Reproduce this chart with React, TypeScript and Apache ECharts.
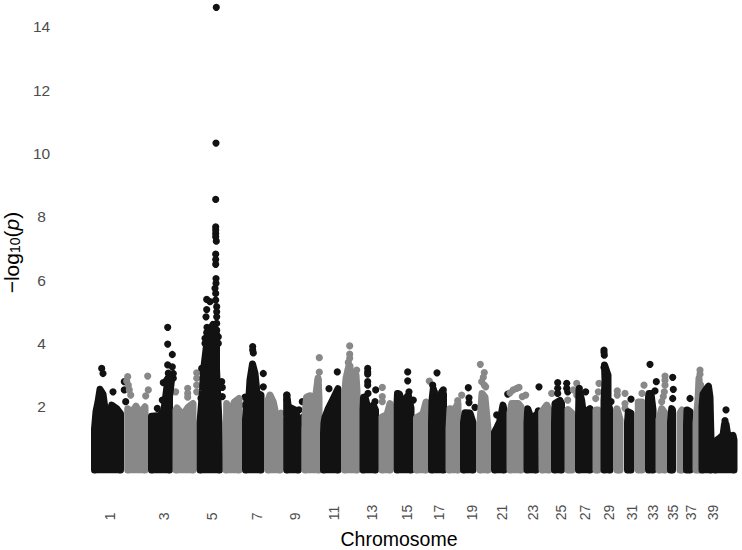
import React, { useEffect, useRef } from "react";
import * as echarts from "echarts";

// Genome position on the x axis, -log10(p) on the y axis.
const tickPositions = [109.5, 164, 212, 257, 295, 334, 372, 407, 439, 472, 502, 533, 561, 585, 609, 632, 653, 673, 691, 713];
const tickLabels = ["1", "3", "5", "7", "9", "11", "13", "15", "17", "19", "21", "23", "25", "27", "29", "31", "33", "35", "37", "39"];
const yTicks = [2, 4, 6, 8, 10, 12, 14];
const xDomain = [60, 742];
const yDomain = [-0.1, 14.85];

type P = [number, number];

// Upper envelope of each chromosome's densely packed SNPs.
const envelopes: P[][] = [
  [[94.5, 0], [94.5, 1.3], [96, 1.85], [98, 2.15], [100, 2.55], [103, 2.4], [105.7, 1.78], [109, 1.58], [111.7, 2.05], [116.7, 1.94], [120.5, 1.78], [120.5, 0]],
  [[127.7, 0], [127.7, 1.94], [131.7, 1.81], [136, 2.02], [140, 1.78], [145, 2.0], [145, 0]],
  [[151.5, 0], [151.5, 1.7], [160, 1.72], [164, 1.9], [166, 2.4], [168, 2.9], [171.5, 2.85], [169.5, 2.3], [169.5, 0]],
  [[176, 0], [176, 1.9], [177, 1.96], [183, 1.74], [188.3, 1.99], [193, 2.1], [193, 0]],
  [[200, 0], [200, 1.5], [202.5, 2.5], [203.5, 3.15], [206, 3.8], [208, 4.3], [213, 4.6], [216.5, 4.3], [216.5, 3.2], [217.5, 2.5], [219, 1.5], [219.5, 0]],
  [[226, 0], [226.7, 2.1], [230, 1.74], [234.3, 2.15], [239, 2.26], [239, 0]],
  [[245.5, 0], [245.5, 1.6], [247, 2.2], [249, 2.35], [250, 2.85], [252.5, 3.35], [255, 3.05], [257, 2.43], [261, 2.37], [261, 0]],
  [[268, 0], [268, 2.2], [270, 2.37], [273.3, 2.15], [276.7, 1.63], [280, 1.63], [280, 0]],
  [[286.7, 0], [286.7, 2.37], [288.3, 2.0], [295, 1.9], [298.3, 1.58], [298.3, 0]],
  [[305, 0], [305, 1.7], [306.5, 2.3], [310, 2.35], [313, 2.3], [316, 2.4], [318, 2.9], [319, 2.3], [319, 0]],
  [[323.5, 0], [323.5, 1.15], [324, 1.5], [325, 1.67], [328.3, 1.94], [333.3, 2.26], [338, 2.57], [338, 0]],
  [[344.5, 0], [344.5, 2.3], [346, 2.9], [349, 3.3], [352, 3.0], [356, 3.0], [357, 2.5], [357, 0]],
  [[363, 0], [363, 1.9], [363.5, 2.3], [365, 2.31], [368.3, 1.9], [373.3, 2.05], [375.5, 1.9], [375.5, 0]],
  [[382, 0], [382, 1.68], [387, 1.75], [390, 2.1], [390, 0]],
  [[397, 0], [397, 2.1], [397.5, 2.42], [399.5, 2.4], [401.7, 2.1], [408.3, 2.37], [411, 1.96], [411, 0]],
  [[416.5, 0], [416.5, 1.65], [423, 1.78], [426, 2.15], [426, 0]],
  [[431.5, 0], [431.5, 1.5], [432, 2.2], [433.3, 2.57], [436.7, 2.0], [441.7, 2.47], [443.5, 2.4], [443.5, 0]],
  [[449, 0], [449, 1.3], [450, 1.94], [454.3, 1.89], [458, 2.1], [458, 0]],
  [[463.5, 0], [463.5, 1.5], [465, 1.81], [470, 1.8], [473, 1.5], [473, 0]],
  [[480, 0], [480, 1.5], [481.5, 2.2], [482, 2.42], [485, 2.3], [488, 1.3], [488, 0]],
  [[494.5, 0], [494.5, 1.2], [497, 1.35], [500, 1.55], [503, 2.05], [504, 1.9], [504, 0]],
  [[510, 0], [510, 1.8], [511.7, 2.1], [518.3, 2.1], [521, 2.0], [521, 0]],
  [[527, 0], [527, 1.5], [527.7, 1.94], [532.3, 1.52], [536, 1.74], [536, 0]],
  [[542, 0], [541.7, 1.84], [546.7, 2.05], [549, 1.9], [549, 0]],
  [[554.5, 0], [554.5, 1.5], [555, 2.1], [560, 2.2], [561.5, 2.1], [561.5, 0]],
  [[568, 0], [568, 1.91], [572, 1.8], [572, 0]],
  [[578.5, 0], [578.5, 1.7], [579, 2.53], [581.7, 2.2], [583.3, 1.78], [590, 1.94], [590, 0]],
  [[596, 0], [596, 1.9], [598, 1.9], [598, 0]],
  [[604, 0], [604, 2.2], [605, 2.8], [604.5, 3.32], [608, 3.0], [608, 2.1], [610, 1.9], [610, 0]],
  [[617, 0], [617, 1.94], [620, 1.6], [620, 0]],
  [[627.5, 0], [627.5, 1.5], [628.3, 1.84], [631, 1.8], [631, 0]],
  [[638.3, 0], [638.3, 2.15], [642, 2.15], [642, 0]],
  [[648.5, 0], [648.5, 2.3], [649, 2.42], [651, 2.42], [653, 1.9], [653, 0]],
  [[659, 0], [659, 1.6], [661.7, 1.94], [665, 1.8], [665, 0]],
  [[670.5, 0], [670.5, 1.5], [671.7, 1.94], [672.5, 1.9], [672.5, 0]],
  [[680, 0], [680, 1.8], [682, 1.9], [682, 0]],
  [[686.5, 0], [686.5, 1.4], [687, 1.9], [690, 1.85], [690, 0]],
  [[696, 0], [696, 1.5], [698, 2.2], [699, 2.9], [699.5, 2.6], [699.5, 0]],
  [[702, 0], [702, 2.0], [703, 2.4], [706, 2.55], [708.5, 2.65], [710, 2.3], [710.5, 1.6], [711, 1.0], [711, 0]],
  [[715, 0], [715, 0.9], [720, 1.02], [723, 1.1], [724.5, 1.45], [726, 1.45], [728, 1.05], [733, 1.1], [734, 0.95], [734, 0]],
];

// Individual SNPs that stand clear of the envelope.
const standouts: P[][] = [
  [[101.7, 3.21], [103, 3.05], [113, 2.47], [124.3, 2.79], [124.3, 2.53], [125.7, 2.16]],
  [[127.7, 2.95], [126.7, 2.81], [128.3, 2.68], [129.3, 2.53], [130.7, 2.37], [147.7, 2.97], [148.3, 2.53], [145.7, 2.34]],
  [[167.7, 4.51], [167.7, 3.98], [172.3, 3.65], [167.7, 3.32], [172.3, 3.26], [173.3, 3.05], [168.3, 3.06], [173.3, 2.9], [163.3, 2.76], [166.7, 2.84], [162.3, 2.21], [157.3, 1.95]],
  [[175.7, 2.47], [187.7, 2.58], [187.7, 2.42], [187.7, 2.3], [196.7, 3.07], [196.7, 2.9], [196.7, 2.68], [196.7, 2.47]],
  [[216.3, 14.62], [216, 10.33], [215.7, 8.55], [215.7, 7.68], [215.7, 7.58], [215.7, 7.47], [215.7, 7.37], [216.3, 7.23], [215.7, 6.82], [215.7, 6.65], [215.7, 6.5], [216, 6.05], [216, 5.9], [215, 5.74], [215.7, 5.58], [206.7, 5.39], [210, 5.32], [215.7, 5.37], [206.7, 5.07], [206, 4.84], [216.7, 5.16], [216.7, 5.0], [216.7, 4.84], [216.7, 4.63], [207, 4.51], [206.7, 4.34], [216.7, 4.42], [211.7, 4.37], [218.3, 4.21], [205, 4.16], [205, 4.0], [218.3, 4.0], [221.7, 2.79], [222.3, 2.61], [222.3, 2.32], [201.7, 3.21], [201, 2.27]],
  [],
  [[252.7, 3.9], [252.7, 3.79], [253.3, 3.7], [263.3, 3.05], [263.3, 2.63], [245, 2.3], [245, 2.05]],
  [[281, 1.8]],
  [[287, 2.37], [287, 2.21], [302.3, 2.16], [299, 1.9], [303.3, 1.68], [300, 1.47]],
  [[319.3, 3.55], [319.3, 3.09], [318.3, 2.84], [318.3, 2.68]],
  [[329, 2.57], [337.3, 3.1]],
  [[349.7, 3.92], [349.7, 3.66], [349.7, 3.53], [348.3, 3.4], [350, 3.28], [356.7, 3.16], [348.3, 3.18]],
  [[367.7, 3.21], [367.7, 3.1], [367.7, 3.03], [367.7, 2.79], [367.7, 2.68], [375.7, 2.53], [368, 2.42], [375, 2.16]],
  [[382.3, 2.61], [382.3, 2.32], [382.3, 2.16]],
  [[407.7, 3.1], [407.7, 2.82], [409, 2.47], [413.3, 2.21]],
  [[429.3, 2.81]],
  [[437, 3.07], [432.7, 2.68], [434.3, 2.47], [443.3, 2.53], [440, 2.26]],
  [[461.7, 2.37], [457.7, 2.19]],
  [[468.3, 2.6], [469, 2.28], [469, 2.13], [475, 1.98]],
  [[480.3, 3.34], [484.3, 3.08], [483.3, 2.93], [481.7, 2.79], [484.3, 2.68], [485.7, 2.63]],
  [[496.7, 1.74], [500, 1.64], [507.7, 2.4]],
  [[510, 2.44], [513.3, 2.53], [516.7, 2.58], [519, 2.61], [522.3, 2.32], [525.7, 2.37]],
  [[539, 2.63], [538.3, 1.87]],
  [[551.7, 2.42]],
  [[557.7, 2.76], [557.7, 2.58], [557.7, 2.42], [566.7, 2.74], [566.7, 2.58], [567.7, 2.47]],
  [[576.7, 2.74], [573.3, 2.53], [576.7, 2.37], [567.7, 2.21]],
  [[579.3, 2.58], [585.7, 2.47]],
  [[595.7, 2.26], [599, 2.74], [598.3, 2.47]],
  [[604, 3.79], [604, 3.72], [604.3, 3.63], [604, 3.24], [611, 2.16], [606.7, 2.23]],
  [[617.3, 2.5], [617.3, 2.37], [625, 2.42], [625, 2.1], [625, 1.95]],
  [[631, 2.24]],
  [[644, 2.68], [642, 2.42]],
  [[650, 3.34], [656.3, 2.79], [655, 2.5]],
  [[665, 2.97], [665, 2.84], [665, 2.68], [664.3, 2.47], [663.3, 2.32], [661.7, 2.16]],
  [[672.7, 2.93], [673.3, 2.55], [672.7, 2.26]],
  [],
  [[690, 2.26]],
  [[700, 3.16], [700, 3.03], [700.7, 2.68], [700.7, 2.55], [699, 2.21]],
  [],
  [[726, 1.9], [725, 1.56]],
];

const dark = "#121212";
const mid = "#888888";
const colourOf = (i: number) => (i === 39 || i % 2 === 0 ? dark : mid);

export default function App() {
  const ref = useRef<HTMLDivElement>(null);
  useEffect(() => {
    const chart = echarts.init(ref.current!, undefined, { renderer: "svg" });
    const series: any[] = [];
    envelopes.forEach((env, i) => {
      const color = colourOf(i);
      series.push({
        type: "line",
        data: env,
        symbol: "none",
        silent: true,
        clip: false,
        lineStyle: { color, width: 7, cap: "round", join: "round" },
        areaStyle: { color, opacity: 1, origin: "start" },
      });
      series.push({
        type: "scatter",
        data: standouts[i],
        symbol: "circle",
        symbolSize: 7.2,
        silent: true,
        clip: false,
        itemStyle: { color, opacity: 1 },
      });
    });
    chart.setOption({
      animation: false,
      backgroundColor: "#ffffff",
      textStyle: { fontFamily: "Liberation Sans" },
      grid: { left: 60, right: 0, top: 0, bottom: 76.8, containLabel: false, outerBoundsMode: "none" },
      xAxis: {
        type: "value",
        min: xDomain[0],
        max: xDomain[1],
        name: "Chromosome",
        nameLocation: "middle",
        nameGap: 56,
        nameTextStyle: { fontSize: 19.5, color: "#000000", fontFamily: "Liberation Sans", padding: [0, 4, 0, 0] },
        axisLine: { show: false },
        axisTick: { show: false },
        splitLine: { show: false },
        axisLabel: {
          customValues: tickPositions,
          formatter: (v: number) => tickLabels[tickPositions.indexOf(v)] ?? "",
          rotate: 90,
          align: "left",
          verticalAlign: "middle",
          margin: 47,
          fontSize: 14,
          color: "#4d4d4d",
          fontFamily: "Liberation Sans",
        },
      },
      yAxis: {
        type: "value",
        min: yDomain[0],
        max: yDomain[1],
        name: "−log{sub|10}({it|p})",
        nameLocation: "middle",
        nameRotate: 90,
        nameGap: 33,
        nameTextStyle: {
          fontSize: 21,
          color: "#000000",
          fontFamily: "Liberation Sans",
          padding: [0, 32, 0, 0],
          rich: {
            sub: { fontSize: 14, verticalAlign: "bottom", padding: [6, 0, 0, 0], fontFamily: "Liberation Sans" },
            it: { fontSize: 21, fontStyle: "italic", fontFamily: "Liberation Sans" },
          },
        },
        axisLine: { show: false },
        axisTick: { show: false },
        splitLine: { show: false },
        axisLabel: {
          customValues: yTicks,
          align: "center",
          margin: 18.5,
          fontSize: 15.5,
          color: "#4d4d4d",
          fontFamily: "Liberation Sans",
        },
      },
      series,
    });
    return () => chart.dispose();
  }, []);
  return <div ref={ref} style={{ position: "fixed", left: 0, top: 0, width: 742, height: 550 }} />;
}
